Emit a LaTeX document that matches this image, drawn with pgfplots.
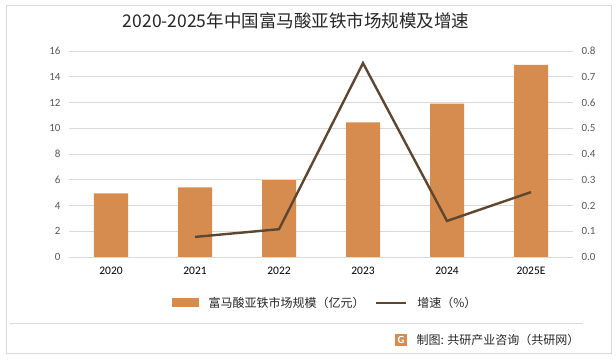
\documentclass[border=0pt]{standalone}
\usepackage{pgfplots}
\pgfplotsset{compat=1.18}
\usepackage{fontspec}
\setmainfont{Carlito}
\newfontfamily\cjk{Noto Sans CJK SC}
\definecolor{barc}{HTML}{D68C4F}
\definecolor{linec}{HTML}{5E4631}
\definecolor{gridc}{HTML}{D9D9D9}
\definecolor{tickc}{HTML}{595959}
\definecolor{txtc}{HTML}{262626}
\begin{document}
\begin{tikzpicture}[x=1pt,y=1pt]
\fill[white] (0,0) rectangle (616,359);
\draw[gridc, line width=1pt] (6,6) rectangle (611,353);
\draw[gridc, line width=0.8pt] (10,36) -- (583,36);
\node[font=\cjk\fontsize{17.5}{17.5}\selectfont, text=txtc] at (296,338) {2020-2025年中国富马酸亚铁市场规模及增速};
\node[anchor=east, font=\cjk\fontsize{12}{12}\selectfont, text=txtc] at (583,19) {制图: 共研产业咨询（共研网）};
\fill[barc] (395,13) rectangle (407,25);
\node[text=white, font=\sffamily\bfseries\fontsize{10}{10}\selectfont] at (401,19) {G};
\begin{axis}[
  at={(69pt,102pt)}, anchor=south west, scale only axis,
  width=504pt, height=206pt,
  xmin=-0.5, xmax=5.5, ymin=0, ymax=16,
  xtick={0,1,2,3,4,5},
  xticklabels={2020,2021,2022,2023,2024,2025E},
  ytick={0,2,...,16},
  ymajorgrids, grid style={gridc, line width=0.8pt},
  axis y line*=left, axis x line*=bottom,
  y axis line style={draw=none},
  x axis line style={gridc, line width=0.8pt, -},
  major tick length=0pt,
  tick label style={font=\fontsize{11}{11}\selectfont, text=tickc},
  xticklabel style={text=black, font=\fontsize{11.5}{11.5}\selectfont, yshift=-7pt},
  yticklabel style={xshift=-5pt},
  /pgf/number format/assume math mode=true,
]
\addplot[ybar, bar width=34pt, fill=barc, draw=none] coordinates {(0,4.95) (1,5.4) (2,5.98) (3,10.45) (4,11.92) (5,14.92)};
\end{axis}
\begin{axis}[
  at={(69pt,102pt)}, anchor=south west, scale only axis,
  width=504pt, height=206pt,
  xmin=-0.5, xmax=5.5, ymin=0, ymax=0.8,
  axis y line*=right, axis x line=none,
  y axis line style={draw=none},
  ytick={0,0.1,...,0.8},
  major tick length=0pt,
  yticklabel style={font=\fontsize{11}{11}\selectfont, text=tickc, xshift=5pt, /pgf/number format/.cd, fixed, fixed zerofill, precision=1},
  /pgf/number format/assume math mode=true,
  legend style={at={(0.508,-0.223)}, anchor=center, draw=none, fill=none, font=\cjk\fontsize{12}{12}\selectfont, text=txtc, legend columns=2, column sep=8pt},
  legend image code/.code={},
]
\addlegendimage{area legend, fill=barc, draw=none, legend image code/.code={\fill[barc] (0pt,-4.5pt) rectangle (27pt,4.5pt);}}
\addlegendentry{富马酸亚铁市场规模（亿元）}
\addlegendimage{linec, line width=2.6pt, legend image code/.code={\draw[linec, line width=2.6pt] (0pt,0pt) -- (30pt,0pt);}}
\addlegendentry{增速（\%）}
\addplot[linec, line width=2.4pt, mark=none, forget plot] coordinates {(1,0.078) (2,0.108) (3,0.753) (4,0.14) (5,0.252)};
\end{axis}
\end{tikzpicture}
\end{document}
